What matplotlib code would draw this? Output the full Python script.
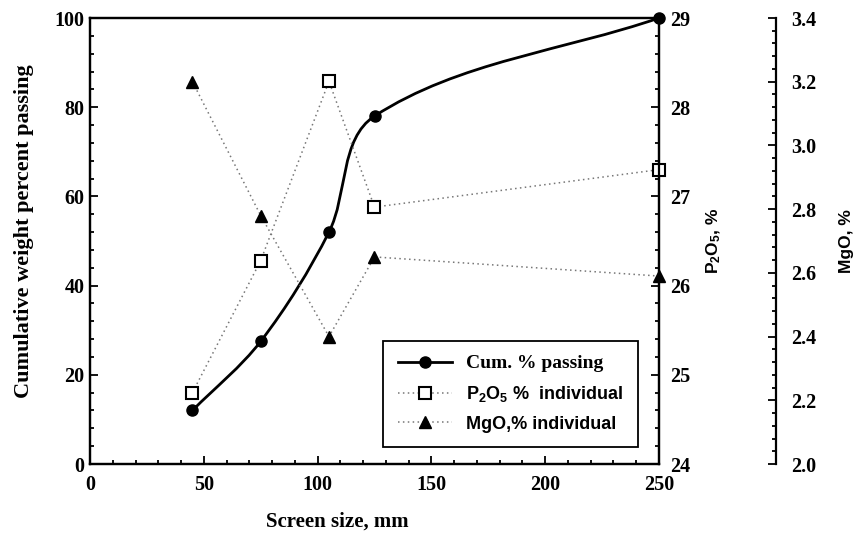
import numpy as np
import matplotlib
matplotlib.use('Agg')
import matplotlib.pyplot as plt
from matplotlib.path import Path
from matplotlib.patches import PathPatch
from matplotlib.lines import Line2D
from matplotlib.ticker import MultipleLocator, FormatStrFormatter

# screen size (mm) and measured values
size = [45, 75, 105, 125, 250]
cum_passing = [12.0, 27.5, 52.0, 78.0, 100.0]
p2o5 = [24.8, 26.28, 28.29, 26.88, 27.3]
mgo = [3.2, 2.78, 2.40, 2.65, 2.59]

SERIF = 'Liberation Serif'
SANS = 'Liberation Sans'

plt.rcParams['font.family'] = SERIF
plt.rcParams['font.weight'] = 'bold'
plt.rcParams['mathtext.fontset'] = 'custom'
plt.rcParams['mathtext.rm'] = SANS + ':bold'
plt.rcParams['mathtext.default'] = 'rm'


def smooth_path(xs, ys, sx, sy):
    # catmull-rom style bezier, tangents worked out in pixel space
    P = np.column_stack([np.asarray(xs, float) * sx, np.asarray(ys, float) * sy])
    n = len(P)
    tang = []
    for i in range(n):
        if i == 0:
            d = P[1] - P[0]
        elif i == n - 1:
            d = P[-1] - P[-2]
        else:
            d = P[i + 1] - P[i - 1]
        tang.append(d / np.hypot(*d))
    verts = [P[0]]
    codes = [Path.MOVETO]
    for i in range(n - 1):
        L = np.hypot(*(P[i + 1] - P[i])) / 3
        verts += [P[i] + tang[i] * L, P[i + 1] - tang[i + 1] * L, P[i + 1]]
        codes += [Path.CURVE4] * 3
    verts = np.array(verts) / [sx, sy]
    return Path(verts, codes)


W, H = 8.57, 5.4
fig = plt.figure(figsize=(W, H), dpi=100)
pos = [90 / 857, 1 - 464 / 540, 569 / 857, 446 / 540]
ax = fig.add_axes(pos)
ax2 = ax.twinx()
ax3 = ax.twinx()

lw_sp = 1.6
for a in (ax, ax2, ax3):
    for s in a.spines.values():
        s.set_linewidth(lw_sp)

# cumulative curve
ax.set_xlim(0, 250)
ax.set_ylim(0, 100)
sx = pos[2] * W * 100 / 250
sy = pos[3] * H * 100 / 100
ax.add_patch(PathPatch(smooth_path(size, cum_passing, sx, sy), fill=False,
                       lw=2.0, edgecolor='black', zorder=3))
ax.plot(size, cum_passing, 'o', color='black', ms=8, clip_on=False, zorder=4)

dot = (0, (1, 2.2))
ax2.plot(size, p2o5, linestyle=dot, color='#777777', lw=1.1,
         marker='s', ms=8, mfc='white', mec='black', mew=1.5, clip_on=False)
ax2.set_ylim(24, 29)

ax3.plot(size, mgo, linestyle=dot, color='#777777', lw=1.1,
         marker='^', ms=9, mfc='black', mec='black', clip_on=False)
ax3.set_ylim(2.0, 3.4)

# axes styling
TS = 14.5
ax.xaxis.set_major_locator(MultipleLocator(50))
ax.xaxis.set_minor_locator(MultipleLocator(10))
ax.yaxis.set_major_locator(MultipleLocator(20))
ax.yaxis.set_minor_locator(MultipleLocator(4))
ax.tick_params(which='both', direction='in', top=False, right=False,
               labelsize=TS, width=1.3)
ax.tick_params(which='major', length=6)
ax.tick_params(which='minor', length=3)
ax.tick_params(axis='x', pad=8)
ax.tick_params(axis='y', pad=4)

ax2.yaxis.set_major_locator(MultipleLocator(1))
ax2.yaxis.set_minor_locator(MultipleLocator(0.2))
ax2.tick_params(which='both', direction='in', labelsize=TS, width=1.3, pad=8)
ax2.tick_params(which='major', length=6)
ax2.tick_params(which='minor', length=3)

ax3.spines['right'].set_position(('axes', (776 - 90) / 569))
for s in ('left', 'top', 'bottom'):
    ax3.spines[s].set_visible(False)
ax3.yaxis.set_major_locator(MultipleLocator(0.2))
ax3.yaxis.set_minor_locator(MultipleLocator(0.04))
ax3.yaxis.set_major_formatter(FormatStrFormatter('%.1f'))
ax3.tick_params(which='both', direction='in', labelsize=TS, width=1.3, pad=11)
ax3.tick_params(which='major', length=6)
ax3.tick_params(which='minor', length=3)

for a in (ax, ax2, ax3):
    for lab in a.get_xticklabels() + a.get_yticklabels():
        lab.set_fontweight('bold')

ax.set_xlabel('Screen size, mm', fontsize=15, fontweight='bold')
ax.xaxis.set_label_coords((337 - 90) / 569, (464 - 512) / 446)
ax.set_ylabel('Cumulative weight percent passing', fontsize=16, fontweight='bold')
ax.yaxis.set_label_coords((34 - 90) / 569, (464 - 231) / 446)
ax2.set_ylabel('P$_2$O$_5$, %', family=SANS, fontsize=12.5, fontweight='bold')
ax2.yaxis.set_label_coords((705 - 90) / 569, 0.5)
ax3.set_ylabel('MgO, %', family=SANS, fontsize=12.5, fontweight='bold')
ax3.yaxis.set_label_coords((839 - 90) / 569, 0.5)

handles = [
    Line2D([], [], color='black', lw=2, marker='o', ms=8),
    Line2D([], [], color='#777777', lw=1.1, linestyle=dot, marker='s', ms=8,
           mfc='white', mec='black', mew=1.5),
    Line2D([], [], color='#777777', lw=1.1, linestyle=dot, marker='^', ms=9,
           mfc='black', mec='black'),
]
labels = ['Cum. % passing', 'P$_2$O$_5$ %  individual', 'MgO,% individual']
leg = ax3.legend(handles, labels, loc='lower right',
                 bbox_to_anchor=((638 - 90) / 569, (464 - 447) / 446),
                 borderaxespad=0, frameon=True, fancybox=False, framealpha=1,
                 edgecolor='black', handlelength=3.0, fontsize=13,
                 borderpad=0.8, labelspacing=0.65, handletextpad=0.8)
leg.get_frame().set_linewidth(1.3)
texts = leg.get_texts()
texts[0].set_family(SERIF)
texts[0].set_fontsize(14)
for t in texts[1:]:
    t.set_family(SANS)
for t in texts:
    t.set_fontweight('bold')

plt.savefig('out.png', dpi=100)
